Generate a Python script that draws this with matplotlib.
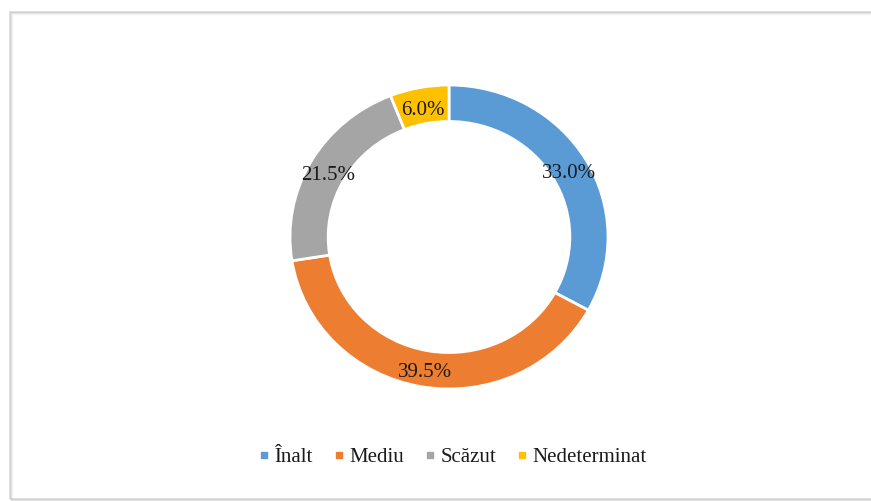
import matplotlib.pyplot as plt
from matplotlib.lines import Line2D
from matplotlib.patches import Rectangle

labels = ['Înalt', 'Mediu', 'Scăzut', 'Nedeterminat']
values = [33.0, 39.5, 21.5, 6.0]
colors = ['#5B9BD5', '#ED7D31', '#A5A5A5', '#FFC000']

plt.rcParams['font.family'] = ['Liberation Serif', 'DejaVu Serif']

W, H = 871, 501
fig = plt.figure(figsize=(W / 100, H / 100), dpi=100)

# frame with a soft shadow like the office chart border
for i, a in enumerate([0.25, 0.15, 0.08, 0.04]):
    fig.add_artist(Rectangle(((10 + i) / W, (H - 499 - i) / H), (W + 10) / W, (499 - 12) / H,
                             transform=fig.transFigure, fill=False,
                             edgecolor='#888888', alpha=a, lw=1.2))
fig.add_artist(Rectangle((10 / W, (H - 499) / H), (W + 10) / W, (499 - 12) / H,
                         transform=fig.transFigure, fill=False, edgecolor='#d0d0d0', lw=1))

# the reference ring is slightly wider than tall
cx, cy, rx, ry = 449, 237, 159, 152
ax = fig.add_axes([(cx - rx) / W, (H - cy - ry) / H, 2 * rx / W, 2 * ry / H])
wedges, texts, autotexts = ax.pie(values, colors=colors, startangle=90, counterclock=False,
                                  radius=1, autopct='%1.1f%%', pctdistance=0.875,
                                  wedgeprops=dict(width=0.24, edgecolor='white', linewidth=2),
                                  textprops=dict(fontsize=15, color='#1a1a1a'))
# labels sit a touch lower in the reference
for t in autotexts:
    x, y = t.get_position()
    t.set_position((x, y - 0.03))
ax.set_xlim(-1, 1)
ax.set_ylim(-1, 1)
ax.set_aspect('auto')
ax.axis('off')

handles = [Line2D([], [], marker='s', linestyle='none', markersize=5,
                  markerfacecolor=c, markeredgecolor=c) for c in colors]
fig.legend(handles, labels, loc='center', bbox_to_anchor=(452 / W, 1 - 457 / H),
           ncol=4, frameon=False, fontsize=15, handletextpad=0.15, columnspacing=0.9,
           handlelength=0.7, labelcolor='#1a1a1a')

fig.savefig('out.png', dpi=100)
